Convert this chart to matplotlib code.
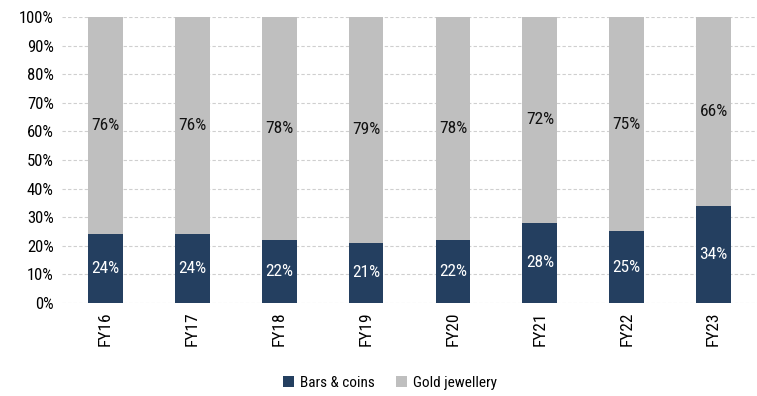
import matplotlib.pyplot as plt
import numpy as np

years = ['FY16', 'FY17', 'FY18', 'FY19', 'FY20', 'FY21', 'FY22', 'FY23']
bars_coins = [24, 24, 22, 21, 22, 28, 25, 34]
jewellery = [76, 76, 78, 79, 78, 72, 75, 66]

plt.rcParams['font.family'] = ['Roboto Condensed', 'Liberation Sans', 'DejaVu Sans']

fig = plt.figure(figsize=(7.57, 3.96), dpi=100)
ax = fig.add_axes([0.082, 0.235, 0.918, 0.722])

x = np.arange(len(years))
dark = '#243F60'
grey = '#BFBFBF'

b1 = ax.bar(x, bars_coins, width=0.4, color=dark, label='Bars & coins', zorder=3)
b2 = ax.bar(x, jewellery, width=0.4, bottom=bars_coins, color=grey, label='Gold jewellery', zorder=3)

ax.bar_label(b1, labels=[f'{v}%' for v in bars_coins], label_type='center', color='white', fontsize=12.5)
ax.bar_label(b2, labels=[f'{v}%' for v in jewellery], label_type='center', color='#111111', fontsize=12.5)

ax.set_xlim(-0.5, len(years) - 0.5)
ax.set_ylim(0, 100)
ax.set_yticks(range(0, 101, 10))
ax.set_yticklabels([f'{v}%' for v in range(0, 101, 10)], fontsize=12)
ax.set_xticks(x)
ax.set_xticklabels(years, rotation=90, fontsize=12.5)
ax.tick_params(length=0, pad=6)
ax.grid(axis='y', color='#CFCFCF', linestyle=(0, (3, 2)), linewidth=0.8, zorder=0)
for s in ax.spines.values():
    s.set_visible(False)

fig.legend(handles=[b1, b2], loc='center', bbox_to_anchor=(0.515, 0.033), ncol=2,
           frameon=False, fontsize=11, handlelength=0.7, handleheight=0.7,
           handletextpad=0.4, columnspacing=1.4)

fig.savefig('out.png', dpi=100)
